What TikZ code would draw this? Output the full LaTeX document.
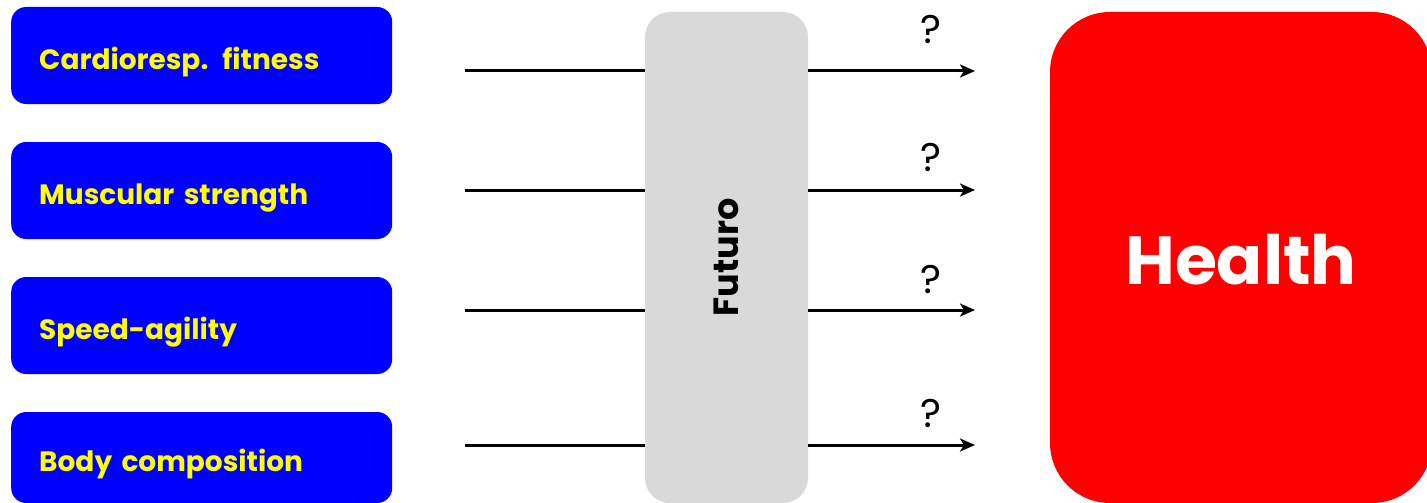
\documentclass[tikz,border=0pt]{standalone}
\usepackage{fontspec}
\setmainfont{Poppins}
\usetikzlibrary{arrows.meta}
\definecolor{boxblue}{HTML}{0000FF}
\definecolor{txtyellow}{HTML}{FFFF00}
\definecolor{futgray}{HTML}{D9D9D9}
\definecolor{healthred}{HTML}{FF0000}
\begin{document}
\begin{tikzpicture}[x=1pt,y=-1pt,
  factor/.style={fill=boxblue, rounded corners=15pt, minimum width=381pt, minimum height=97pt,
    text width=325pt, inner xsep=28pt, align=left, anchor=west,
    text height=34pt, text depth=6pt,
    text=txtyellow, font=\fontsize{28}{32}\selectfont\bfseries},
  futbox/.style={fill=futgray, rounded corners=25pt, minimum width=163pt, minimum height=491pt,
    font=\fontsize{35}{40}\selectfont\bfseries},
  healthbox/.style={fill=healthred, rounded corners=60pt, minimum width=382pt, minimum height=491pt,
    text height=56pt, text depth=2pt,
    text=white, font=\fontsize{68}{74}\selectfont\bfseries},
  qmark/.style={font=\fontsize{40}{44}\selectfont, inner sep=0pt},
  conn/.style={line width=3pt},
  arr/.style={line width=3pt, -{Stealth[length=15pt,width=13pt,inset=4pt]}}
]
\useasboundingbox (0,0) rectangle (1427,503);
\node[factor] (b1) at (11,55.5) {Cardioresp. fitness};
\node[factor] (b2) at (11,190.5) {Muscular strength};
\node[factor] (b3) at (11,325.5) {Speed-agility};
\node[factor, minimum height=91pt] (b4) at (11,457.5) {Body composition};
\node[futbox] (fut) at (726.5,257.5) {\rotatebox{90}{Futuro}};
\node[healthbox] (health) at (1241,257.5) {Health};
\coordinate (s1) at (465,71);
\coordinate (s2) at (465,190);
\coordinate (s3) at (465,310);
\coordinate (s4) at (465,445);
\coordinate (e1) at (975,71);
\coordinate (e2) at (975,190);
\coordinate (e3) at (975,310);
\coordinate (e4) at (975,445);
\foreach \i in {1,2,3,4}{
  \draw[conn] (s\i) -- (s\i -| fut.west);
  \draw[arr] (e\i -| fut.east) -- (e\i);
}
\node[qmark] (q1) at (931,30) {?};
\node[qmark] (q2) at (931,157) {?};
\node[qmark] (q3) at (931,279) {?};
\node[qmark] (q4) at (931,413) {?};
\end{tikzpicture}
\end{document}
